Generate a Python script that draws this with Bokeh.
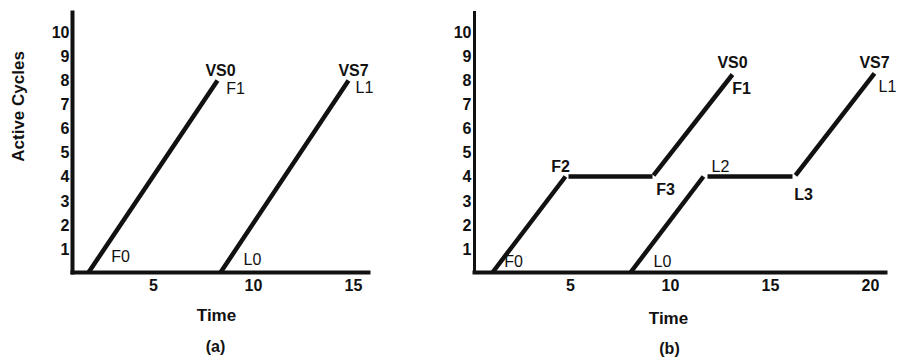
import math

from bokeh.plotting import figure
from bokeh.layouts import row
from bokeh.models import FixedTicker, Label, LinearAxis, Range1d
from bokeh.embed import file_html
from bokeh.resources import INLINE

# ---- data ----------------------------------------------------------------
# (a): each vertex shader climbs straight to its active-cycle count
a_f_time = [1.75, 8.2]
a_f_cycles = [0, 8]
a_l_time = [8.35, 14.75]
a_l_cycles = [0, 8]

# (b): climb, stall at 4 cycles, then climb again (drawn as separate pieces)
b_f_time = [[1.1, 4.75], [4.9, 9.1], [9.15, 13.1]]
b_f_cycles = [[0, 4], [4, 4], [4.05, 8.25]]
b_l_time = [[8.0, 11.65], [11.85, 16.1], [16.25, 20.2]]
b_l_cycles = [[0, 4], [4, 4], [4.05, 8.3]]

y_ticks = [1, 2, 3, 4, 5, 6, 7, 8, 9, 10]
a_x_ticks = [5, 10, 15]
b_x_ticks = [5, 10, 15, 20]

# annotation text: (text, time, cycles, bold)
a_notes = [
    ("VS0", 8.35, 8.42, True),
    ("F1", 9.1, 7.67, False),
    ("VS7", 15.0, 8.42, True),
    ("L1", 15.55, 7.7, False),
    ("F0", 3.35, 0.67, False),
    ("L0", 9.95, 0.54, False),
]
b_notes = [
    ("VS0", 13.1, 8.75, True),
    ("F1", 13.55, 7.67, True),
    ("VS7", 20.2, 8.75, True),
    ("L1", 20.85, 7.75, False),
    ("F2", 4.5, 4.42, True),
    ("F3", 9.75, 3.46, True),
    ("L2", 12.5, 4.42, False),
    ("L3", 16.65, 3.25, True),
    ("F0", 2.15, 0.46, False),
    ("L0", 9.6, 0.46, False),
]

FONT = "Liberation Sans"
INK = "#111111"
Y_TOP = 10.83


def text_label(p, text, x, y, bold=True, size="16px", angle=0.0):
    p.add_layout(Label(x=x, y=y, text=text, text_font=FONT,
                       text_font_size=size,
                       text_font_style="bold" if bold else "normal",
                       text_color=INK, text_align="center",
                       text_baseline="middle", angle=angle))


def make_panel(width, x_range, axis_bounds, x_ticks, y_axis_width):
    # the frame fills the whole canvas; both axes sit at fixed data
    # positions so every caption can be placed in data space
    p = figure(width=width, height=358,
               x_range=Range1d(*x_range), y_range=Range1d(-3.583, 11.333),
               output_backend="svg", toolbar_location=None,
               x_axis_location=None, y_axis_location=None,
               min_border=0)
    p.outline_line_color = None
    p.grid.visible = False
    p.background_fill_color = "white"
    p.border_fill_color = "white"

    xaxis = LinearAxis(fixed_location=0, bounds=axis_bounds,
                       ticker=FixedTicker(ticks=x_ticks),
                       major_label_standoff=6)
    yaxis = LinearAxis(fixed_location=axis_bounds[0], bounds=(0, Y_TOP),
                       ticker=FixedTicker(ticks=y_ticks),
                       major_label_standoff=3)
    for ax in (xaxis, yaxis):
        ax.axis_line_color = INK
        ax.axis_line_width = 4
        ax.axis_line_cap = "square"
        ax.major_tick_line_color = None
        ax.minor_tick_line_color = None
        ax.major_tick_out = 0
        ax.major_tick_in = 0
        ax.major_label_text_font = FONT
        ax.major_label_text_font_style = "bold"
        ax.major_label_text_font_size = "16px"
        ax.major_label_text_color = INK
    yaxis.axis_line_width = y_axis_width
    p.add_layout(xaxis, "below")
    p.add_layout(yaxis, "left")
    return p


def add_notes(p, notes):
    for text, x, y, bold in notes:
        text_label(p, text, x, y, bold=bold)


# ---- panel (a) -----------------------------------------------------------
pa = make_panel(440, (-2.65, 19.35), (0.95, 15.75), a_x_ticks, 4)
pa.multi_line(xs=[a_f_time, a_l_time], ys=[a_f_cycles, a_l_cycles],
              line_color=INK, line_width=4.5, line_cap="butt")
add_notes(pa, a_notes)
text_label(pa, "Active Cycles", -1.75, 6.92, size="17px", angle=math.pi / 2)
text_label(pa, "Time", 8.15, -1.79, size="17px")
text_label(pa, "(a)", 8.1, -3.08)

# ---- panel (b) -----------------------------------------------------------
pb = make_panel(462, (-1.5, 21.6), (0.2, 20.75), b_x_ticks, 3)
pb.multi_line(xs=b_f_time + b_l_time, ys=b_f_cycles + b_l_cycles,
              line_color=INK, line_width=4.5, line_cap="butt")
add_notes(pb, b_notes)
text_label(pb, "Time", 9.9, -1.92, size="17px")
text_label(pb, "(b)", 9.95, -3.17)

layout = row(pa, pb)
open("out.html", "w").write(file_html(layout, INLINE))
